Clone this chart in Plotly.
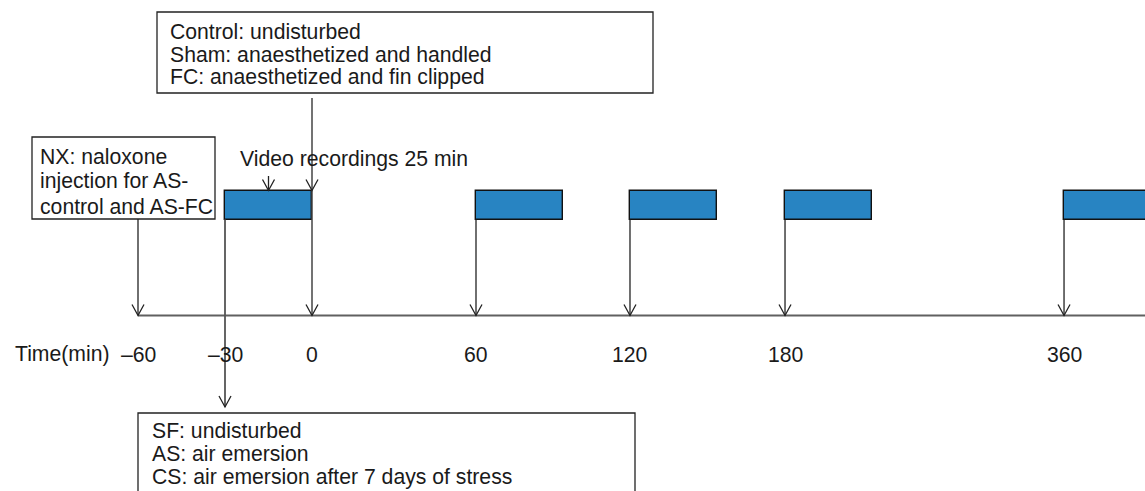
import plotly.graph_objects as go

# ---------------- data ----------------
time_minutes = [-60, -30, 0, 60, 120, 180, 360]
time_labels = ["\u201360", "\u201330", "0", "60", "120", "180", "360"]
# schematic (non-linear) slot of each time point along the timeline
timeline_slot = [0, 1, 2, 3.885, 5.655, 7.437, 10.644]
recording_start_min = [-30, 60, 120, 180, 360]
video_label = "Video recordings 25 min"
axis_title = "Time(min)"
box_top_lines = ["Control: undisturbed",
                 "Sham: anaesthetized and handled",
                 "FC: anaesthetized and fin clipped"]
box_nx_lines = ["NX: naloxone", "injection for AS-", "control and AS-FC"]
box_bottom_lines = ["SF: undisturbed", "AS: air emersion",
                    "CS: air emersion after 7 days of stress"]

# ---------------- layout constants ----------------
W, H = 1145, 491
X0_PX, SLOT_PX = 138, 87
FONT = "Liberation Sans, Arial, sans-serif"
FS = 21.2
BLUE = "#2884c2"
AXIS_Y, BAR_TOP, BAR_BOT = 315.5, 190.5, 219.5
LBL_Y = 353
ARROW_COL = "#222222"
TXT_COL = "#1a1a1a"

slot_of = dict(zip(time_minutes, timeline_slot))


def px(xpix):
    return (xpix - X0_PX) / SLOT_PX


shapes = []
annotations = []


def vline(x, y0, y1, color=ARROW_COL, width=1.3):
    shapes.append(dict(type="line", xref="x", yref="y", x0=x, x1=x, y0=y0, y1=y1,
                       line=dict(color=color, width=width), layer="above"))


def head(x, y, color=ARROW_COL):
    # open V arrowhead, tip at (x, y) pointing down
    shapes.append(dict(type="path", xref="x", yref="y", xsizemode="pixel",
                       ysizemode="pixel", xanchor=x, yanchor=y,
                       path="M-6,11 L0,0 L6,11",
                       line=dict(color=color, width=1.3), layer="above"))


def box(x0, x1, y0, y1):
    shapes.append(dict(type="rect", xref="x", yref="y", x0=px(x0), x1=px(x1),
                       y0=y0, y1=y1, line=dict(color="#222222", width=1.3),
                       fillcolor="white", layer="below"))


def text_lines(lines, xpix, ys):
    for t, y in zip(lines, ys):
        annotations.append(dict(x=px(xpix), y=y, xref="x", yref="y", text=t,
                                showarrow=False, xanchor="left", yanchor="middle",
                                font=dict(family=FONT, size=FS, color=TXT_COL)))


# timeline axis line
shapes.append(dict(type="line", xref="x", yref="y", x0=slot_of[-60], x1=px(W + 5),
                   y0=AXIS_Y, y1=AXIS_Y, line=dict(color="#606060", width=2.2),
                   layer="above"))

# boxes
box(157, 653, 12, 93)
box(32, 215, 137, 219)
box(138, 635, 413, 520)
text_lines(box_top_lines, 168, [31, 54, 77])
text_lines(box_nx_lines, 38, [156, 181, 206])
text_lines(box_bottom_lines, 150, [430, 453, 477])

# video bars
starts = [slot_of[m] for m in recording_start_min]
fig = go.Figure(go.Bar(orientation="h", base=starts, x=[1] * len(starts),
                       y=[(BAR_TOP + BAR_BOT) / 2] * len(starts),
                       width=BAR_BOT - BAR_TOP,
                       marker=dict(color=BLUE, line=dict(color="#111111", width=1.4)),
                       hoverinfo="skip"))

# arrows from bars to the axis
for m in recording_start_min:
    s = slot_of[m]
    if m == -30:
        vline(s, BAR_BOT, 407, color="#555555", width=1.8)
        head(s, 407)
    else:
        vline(s, BAR_BOT, AXIS_Y)
        head(s, AXIS_Y)

# NX arrow (-60)
vline(slot_of[-60], 219, AXIS_Y)
head(slot_of[-60], AXIS_Y)
# top box arrow (0)
vline(slot_of[0], 98, AXIS_Y, color="#444444", width=1.5)
head(slot_of[0], BAR_TOP)
head(slot_of[0], AXIS_Y)
# video recordings arrow
mid = slot_of[-30] + 0.5
vline(mid, 176, BAR_TOP)
head(mid, BAR_TOP)
annotations.append(dict(x=px(238), y=159, xref="x", yref="y", text=video_label,
                        showarrow=False, xanchor="left", yanchor="middle",
                        font=dict(family=FONT, size=FS, color=TXT_COL)))

# tick labels
for s, lab in zip(timeline_slot, time_labels):
    annotations.append(dict(x=s, y=LBL_Y + 1, xref="x", yref="y", text=lab,
                            showarrow=False, xanchor="center", yanchor="middle",
                            font=dict(family=FONT, size=FS, color=TXT_COL)))
annotations.append(dict(x=px(13), y=LBL_Y + 1, xref="x", yref="y", text=axis_title,
                        showarrow=False, xanchor="left", yanchor="middle",
                        font=dict(family=FONT, size=FS, color=TXT_COL)))

fig.update_layout(
    width=W, height=H, margin=dict(l=0, r=0, t=0, b=0),
    paper_bgcolor="white", plot_bgcolor="white", showlegend=False,
    xaxis=dict(range=[px(0), px(W)], visible=False, fixedrange=True),
    yaxis=dict(range=[H, 0], visible=False, fixedrange=True),
    shapes=shapes, annotations=annotations, bargap=0,
)
fig.write_html("out.html", config={"displayModeBar": False},
               post_script="document.body.style.margin='0';"
                           "document.body.style.overflow='hidden';")
